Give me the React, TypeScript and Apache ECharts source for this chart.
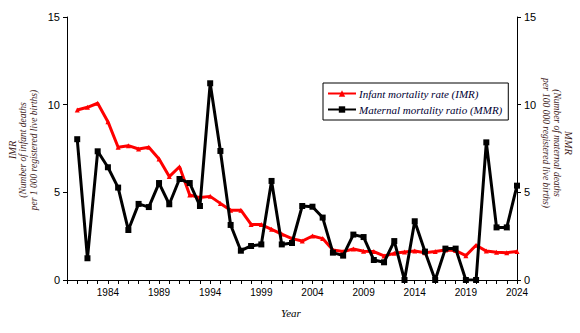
import React, { useEffect, useRef } from "react";
import * as echarts from "echarts";

const years: number[] = [];
for (let y = 1981; y <= 2024; y++) years.push(y);

const imr = [
  9.7, 9.85, 10.08, 9.03, 7.57, 7.66, 7.47, 7.57, 6.9, 5.9,
  6.46, 4.85, 4.7, 4.77, 4.37, 3.98, 3.98, 3.17, 3.16, 2.89,
  2.62, 2.36, 2.22, 2.51, 2.36, 1.71, 1.62, 1.77, 1.64, 1.62,
  1.37, 1.52, 1.6, 1.65, 1.56, 1.62, 1.71, 1.68, 1.39, 1.98,
  1.65, 1.58, 1.56, 1.62,
];

const mmr = [
  8.03, 1.24, 7.34, 6.43, 5.27, 2.85, 4.34, 4.16, 5.53, 4.32,
  5.76, 5.53, 4.22, 11.22, 7.36, 3.14, 1.67, 1.94, 2.03, 5.65,
  2.03, 2.11, 4.22, 4.18, 3.56, 1.56, 1.39, 2.59, 2.45, 1.14,
  1.01, 2.22, 0, 3.35, 1.62, 0, 1.79, 1.79, 0, 0,
  7.85, 3.0, 3.0, 5.38,
];

const labelYears = [1984, 1989, 1994, 1999, 2004, 2009, 2014, 2019, 2024];

const seriesNames = ["Infant mortality rate (IMR)", "Maternal mortality ratio (MMR)"];
const leftTitle = ["IMR", "(Number of infant deaths", "per 1 000 registered live births)"];
const rightTitle = ["MMR", "(Number of maternal deaths", "per 100 000 registered live births)"];

export default function App() {
  const ref = useRef<HTMLDivElement>(null);
  useEffect(() => {
    if (!ref.current) return;
    const chart = echarts.init(ref.current, undefined, { renderer: "svg" });
    const titleColor = "#3d1a1a";
    const titleFont = {
      fontFamily: "Liberation Serif",
      fontStyle: "italic" as const,
      fontSize: 9.5,
      fill: titleColor,
      textAlign: "center" as const,
      textVerticalAlign: "middle" as const,
    };
    const leftX = [12, 23, 34];
    const rightX = [568, 557, 546];
    const graphics: any[] = [];
    leftTitle.forEach((t, i) => {
      graphics.push({
        type: "text",
        x: leftX[i],
        y: 150,
        rotation: Math.PI / 2,
        style: { text: t, ...titleFont, fontSize: i === 0 ? 10.5 : 9.5 },
      });
    });
    rightTitle.forEach((t, i) => {
      graphics.push({
        type: "text",
        x: rightX[i],
        y: 143,
        rotation: -Math.PI / 2,
        style: { text: t, ...titleFont, fontSize: i === 0 ? 10.5 : 9.5 },
      });
    });
    graphics.push({
      type: "text",
      x: 291,
      y: 313,
      style: {
        text: "Year",
        fontFamily: "Liberation Serif",
        fontStyle: "italic",
        fontSize: 11,
        fill: "#000",
        textAlign: "center",
        textVerticalAlign: "middle",
      },
    });

    chart.setOption({
      animation: false,
      grid: { left: 67, right: 63, top: 17, bottom: 53 },
      legend: {
        orient: "vertical",
        left: 323,
        top: 83,
        width: 180,
        borderColor: "#000",
        borderWidth: 1,
        padding: [5, 6, 5, 4],
        itemGap: 5,
        itemWidth: 28,
        itemHeight: 8,
        textStyle: {
          fontFamily: "Liberation Serif",
          fontStyle: "italic",
          fontSize: 11,
          color: "#000033",
          padding: [0, 0, 0, -2],
        },
        data: seriesNames,
      },
      xAxis: {
        type: "value",
        min: 1980,
        max: 2024,
        interval: 1,
        axisLine: { lineStyle: { color: "#000", width: 1 } },
        axisTick: { show: true, length: 4, lineStyle: { color: "#000" } },
        splitLine: { show: false },
        axisLabel: {
          color: "#000",
          fontFamily: "Liberation Sans",
          fontSize: 10,
          margin: 7,
          formatter: (v: number) => (labelYears.includes(v) ? String(v) : ""),
        },
      },
      yAxis: [
        {
          type: "value",
          min: 0,
          max: 15,
          interval: 5,
          position: "left",
          axisLine: { show: true, lineStyle: { color: "#000", width: 1 } },
          axisTick: { show: true, length: 4, lineStyle: { color: "#000" } },
          splitLine: { show: false },
          axisLabel: { color: "#000", fontFamily: "Liberation Sans", fontSize: 11, margin: 7 },
        },
        {
          type: "value",
          min: 0,
          max: 15,
          interval: 5,
          position: "right",
          axisLine: { show: true, lineStyle: { color: "#000", width: 1 } },
          axisTick: { show: true, length: 4, lineStyle: { color: "#000" } },
          splitLine: { show: false },
          axisLabel: { color: "#000", fontFamily: "Liberation Sans", fontSize: 11, margin: 7 },
        },
      ],
      series: [
        {
          name: seriesNames[0],
          type: "line",
          yAxisIndex: 0,
          data: years.map((y, i) => [y, imr[i]]),
          symbol: "triangle",
          symbolSize: 5,
          lineStyle: { color: "#ff0000", width: 3 },
          itemStyle: { color: "#ff0000" },
          z: 2,
        },
        {
          name: seriesNames[1],
          type: "line",
          yAxisIndex: 1,
          data: years.map((y, i) => [y, mmr[i]]),
          symbol: "rect",
          symbolSize: 6,
          lineStyle: { color: "#000", width: 3 },
          itemStyle: { color: "#000" },
          z: 3,
        },
      ],
      graphic: graphics,
    });
    return () => chart.dispose();
  }, []);
  return <div ref={ref} style={{ width: 580, height: 333, position: "absolute", left: 0, top: 0 }} />;
}
